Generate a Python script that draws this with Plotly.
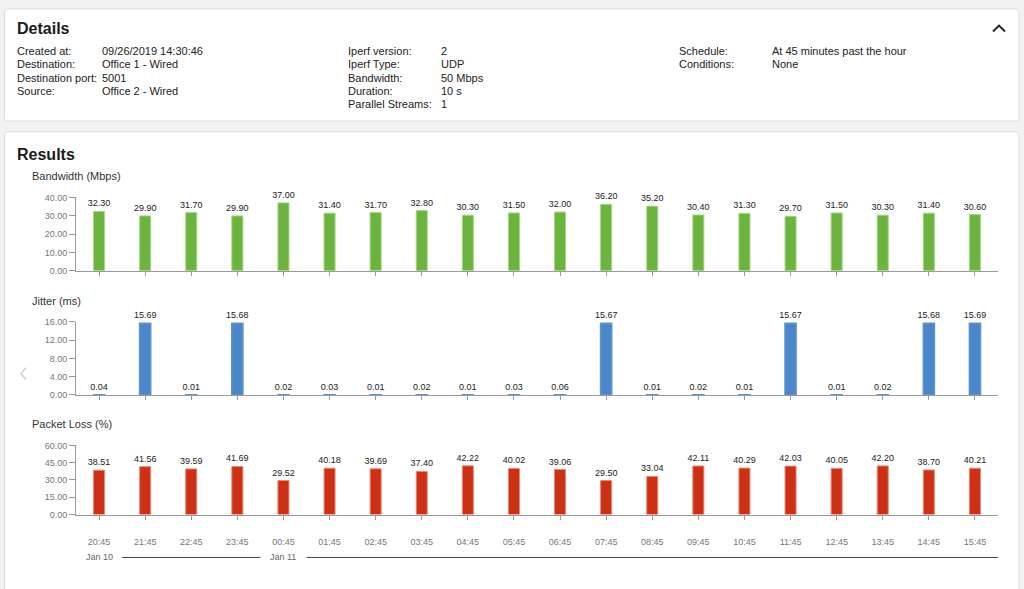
import plotly.graph_objects as go

# ---- data ----
times = ["20:45", "21:45", "22:45", "23:45", "00:45", "01:45", "02:45", "03:45", "04:45", "05:45",
         "06:45", "07:45", "08:45", "09:45", "10:45", "11:45", "12:45", "13:45", "14:45", "15:45"]
bandwidth = [32.30, 29.90, 31.70, 29.90, 37.00, 31.40, 31.70, 32.80, 30.30, 31.50,
             32.00, 36.20, 35.20, 30.40, 31.30, 29.70, 31.50, 30.30, 31.40, 30.60]
jitter = [0.04, 15.69, 0.01, 15.68, 0.02, 0.03, 0.01, 0.02, 0.01, 0.03,
          0.06, 15.67, 0.01, 0.02, 0.01, 15.67, 0.01, 0.02, 15.68, 15.69]
packet_loss = [38.51, 41.56, 39.59, 41.69, 29.52, 40.18, 39.69, 37.40, 42.22, 40.02,
               39.06, 29.50, 33.04, 42.11, 40.29, 42.03, 40.05, 42.20, 38.70, 40.21]
date_labels = [("20:45", "Jan 10"), ("00:45", "Jan 11")]

details_col1 = [("Created at:", "09/26/2019 14:30:46"), ("Destination:", "Office 1 - Wired"),
                ("Destination port:", "5001"), ("Source:", "Office 2 - Wired")]
details_col2 = [("Iperf version:", "2"), ("Iperf Type:", "UDP"), ("Bandwidth:", "50 Mbps"),
                ("Duration:", "10 s"), ("Parallel Streams:", "1")]
details_col3 = [("Schedule:", "At 45 minutes past the hour"), ("Conditions:", "None")]

W, H = 1024, 589
FONT = "Liberation Sans, Arial, sans-serif"


def px(x):
    return x / W


def py(y):
    return 1 - y / H


def rounded(x0, y0, x1, y1, r=3):
    X0, X1 = px(x0), px(x1)
    Y0, Y1 = py(y0), py(y1)
    rx, ry = r / W, r / H
    return (f"M {X0+rx},{Y0} L {X1-rx},{Y0} Q {X1},{Y0} {X1},{Y0-ry} "
            f"L {X1},{Y1+ry} Q {X1},{Y1} {X1-rx},{Y1} L {X0+rx},{Y1} "
            f"Q {X0},{Y1} {X0},{Y1+ry} L {X0},{Y0-ry} Q {X0},{Y0} {X0+rx},{Y0} Z")


fig = go.Figure()

series = [
    (bandwidth, "#6cb33f", "#a6d884", 1, "x", "y"),
    (jitter, "#4a86c8", "#5d93cf", 1.6, "x2", "y2"),
    (packet_loss, "#cc3116", "#e88a78", 1, "x3", "y3"),
]
for vals, col, edge, lw, xa, ya in series:
    fig.add_trace(go.Bar(
        x=times, y=vals, xaxis=xa, yaxis=ya,
        marker=dict(color=col, line=dict(color=edge, width=lw)),
        texttemplate="%{y:.2f}", textposition="outside",
        textfont=dict(size=9, color="#222", family=FONT),
        cliponaxis=False, constraintext="none", showlegend=False,
        hoverinfo="x+y",
    ))

xdom = [px(76), px(998)]
axis_common = dict(showline=True, linecolor="#9a9a9a", linewidth=1, ticks="outside",
                   tickcolor="#9a9a9a", showgrid=False, zeroline=False, fixedrange=True)
xcommon = dict(axis_common, domain=xdom, ticklen=4, tickfont=dict(size=9, color="#777", family=FONT),
               range=[-0.5, 19.5], type="category")
ycommon = dict(axis_common, ticklen=6, tickformat=".2f",
               tickfont=dict(size=9, color="#777", family=FONT))

fig.update_layout(
    width=W, height=H, margin=dict(l=0, r=0, t=0, b=0),
    paper_bgcolor="#f2f2f2", plot_bgcolor="rgba(0,0,0,0)",
    bargap=0.76, font=dict(family=FONT),
    xaxis=dict(xcommon, anchor="y", showticklabels=False),
    xaxis2=dict(xcommon, anchor="y2", showticklabels=False),
    xaxis3=dict(xcommon, anchor="y3", showticklabels=True, ticklabelstandoff=15),
    yaxis=dict(ycommon, anchor="x", domain=[py(270.3), py(195.7)], range=[0, 40], dtick=10),
    yaxis2=dict(ycommon, anchor="x2", domain=[py(396.7), py(322.3)], range=[0, 16], dtick=4),
    yaxis3=dict(ycommon, anchor="x3", domain=[py(518.3), py(448)], range=[0, 60], dtick=15),
)

shapes = [
    dict(type="path", path=rounded(4.5, 4, 1019, 118), xref="paper", yref="paper",
         fillcolor="white", line=dict(color="#dddddd", width=1), layer="below"),
    dict(type="path", path=rounded(4.5, 129, 1019, 620), xref="paper", yref="paper",
         fillcolor="white", line=dict(color="#dddddd", width=1), layer="below"),
    # collapse caret
    dict(type="path", path=f"M {px(993)},{py(27)} L {px(999)},{py(21)} L {px(1005)},{py(27)}",
         xref="paper", yref="paper", line=dict(color="#222", width=2)),
    # left nav arrow
    dict(type="path", path=f"M {px(26)},{py(369)} L {px(21)},{py(375)} L {px(26)},{py(381)}",
         xref="paper", yref="paper", line=dict(color="#cfcfcf", width=1.5)),
    # date separator lines
    dict(type="line", xref="x3", yref="paper", x0=0.5, x1=3.5, y0=py(562), y1=py(562),
         line=dict(color="#444", width=1)),
    dict(type="line", xref="x3", yref="paper", x0=4.5, x1=19.5, y0=py(562), y1=py(562),
         line=dict(color="#444", width=1)),
]

ann = []


def text(x, y, s, size=11, color="#222", bold=False, xanchor="left"):
    ann.append(dict(x=px(x), y=py(y), xref="paper", yref="paper", text=f"<b>{s}</b>" if bold else s,
                    showarrow=False, xanchor=xanchor, yanchor="middle",
                    font=dict(size=size, color=color, family=FONT)))


text(15, 24, "Details", size=16, color="#1a1a1a", bold=True)
text(15, 152, "Results", size=16, color="#1a1a1a", bold=True)
rows_y = [47, 60.5, 74, 87.5, 101]
for cols, lx, vx in [(details_col1, 15, 100), (details_col2, 345.5, 439), (details_col3, 676.5, 770)]:
    for (lab, val), yy in zip(cols, rows_y):
        text(lx, yy, lab, size=11, color="#222")
        text(vx, yy, val, size=11, color="#222")

text(30, 174, "Bandwidth (Mbps)", size=11, color="#333")
text(30, 301, "Jitter (ms)", size=11, color="#333")
text(30, 426.5, "Packet Loss (%)", size=11, color="#333")

for cat, lab in date_labels:
    ann.append(dict(x=cat, y=py(562), xref="x3", yref="paper", text=lab, showarrow=False,
                    xanchor="center", yanchor="middle", font=dict(size=9, color="#666", family=FONT)))

fig.update_layout(shapes=shapes, annotations=ann)
fig.write_html(
    "out.html",
    config={"displayModeBar": False},
    post_script=(
        "var d=document.documentElement,b=document.body;"
        "d.style.margin='0';b.style.margin='0';d.style.padding='0';b.style.padding='0';"
        "d.style.overflow='hidden';b.style.overflow='hidden';"
        "d.style.height='589px';b.style.height='589px';"
    ),
)
